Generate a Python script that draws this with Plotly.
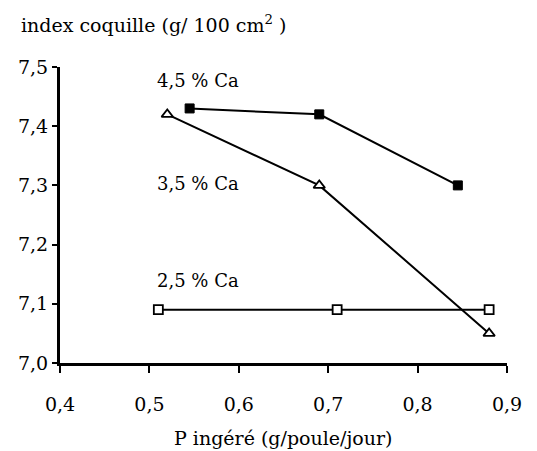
import plotly.graph_objects as go

# P intake (g/hen/day) and shell index (g/100 cm2) for each dietary Ca level
p_ca25 = [0.51, 0.71, 0.88]
idx_ca25 = [7.09, 7.09, 7.09]

p_ca35 = [0.52, 0.69, 0.88]
idx_ca35 = [7.42, 7.30, 7.05]

p_ca45 = [0.545, 0.69, 0.845]
idx_ca45 = [7.43, 7.42, 7.30]

series_labels = ["2,5 % Ca", "3,5 % Ca", "4,5 % Ca"]
label_y = [7.140, 7.304, 7.478]

x_ticks = [0.4, 0.5, 0.6, 0.7, 0.8, 0.9]
y_ticks = [7.0, 7.1, 7.2, 7.3, 7.4, 7.5]

FONT = "DejaVu Serif, Liberation Serif, serif"

fig = go.Figure()

fig.add_trace(go.Scatter(
    x=p_ca25, y=idx_ca25, mode="lines+markers",
    line=dict(color="black", width=2),
    marker=dict(symbol="square", size=9, color="white",
                line=dict(color="black", width=1.8)),
    showlegend=False, cliponaxis=False,
))
fig.add_trace(go.Scatter(
    x=p_ca35, y=idx_ca35, mode="lines+markers",
    line=dict(color="black", width=2),
    marker=dict(symbol="triangle-up", size=10, color="white",
                line=dict(color="black", width=1.8)),
    showlegend=False, cliponaxis=False,
))
fig.add_trace(go.Scatter(
    x=p_ca45, y=idx_ca45, mode="lines+markers",
    line=dict(color="black", width=2),
    marker=dict(symbol="square", size=9, color="black",
                line=dict(color="black", width=1)),
    showlegend=False, cliponaxis=False,
))

# series labels placed at the left of each curve
for txt, yv in zip(series_labels, label_y):
    fig.add_annotation(x=0.506, y=yv, text=txt, showarrow=False,
                       xanchor="left", yanchor="middle",
                       font=dict(family=FONT, size=18, color="black"))

# x-axis title under the tick labels
fig.add_annotation(x=0.5, y=-0.253, xref="paper", yref="paper",
                   text="P ingéré (g/poule/jour)", showarrow=False,
                   xanchor="center", yanchor="middle",
                   font=dict(family=FONT, size=19, color="black"))

fig.update_layout(
    width=537, height=451,
    margin=dict(l=60, r=30, t=67, b=88),
    paper_bgcolor="white", plot_bgcolor="white",
    separators=", ",
    font=dict(family=FONT, size=17, color="black"),
    title=dict(text="index coquille (g/ 100 cm<sup>2</sup> )",
               x=21 / 537, xanchor="left", xref="container",
               y=1 - 25 / 451, yanchor="middle", yref="container",
               font=dict(family=FONT, size=19, color="black")),
)

fig.update_xaxes(
    range=[0.4, 0.9], tickvals=x_ticks, tickformat=".1f",
    showgrid=False, zeroline=False,
    showline=True, linecolor="black", linewidth=3,
    ticks="outside", ticklen=7, tickwidth=2, tickcolor="black",
    ticklabelstandoff=15,
    tickfont=dict(family=FONT, size=19),
    automargin=False,
)
fig.update_yaxes(
    range=[7.0, 7.5], tickvals=y_ticks, tickformat=".1f",
    showgrid=False, zeroline=False,
    showline=True, linecolor="black", linewidth=3,
    ticks="outside", ticklen=5, tickwidth=2, tickcolor="black",
    tickfont=dict(family=FONT, size=19),
    automargin=False,
)

fig.write_html("out.html")
